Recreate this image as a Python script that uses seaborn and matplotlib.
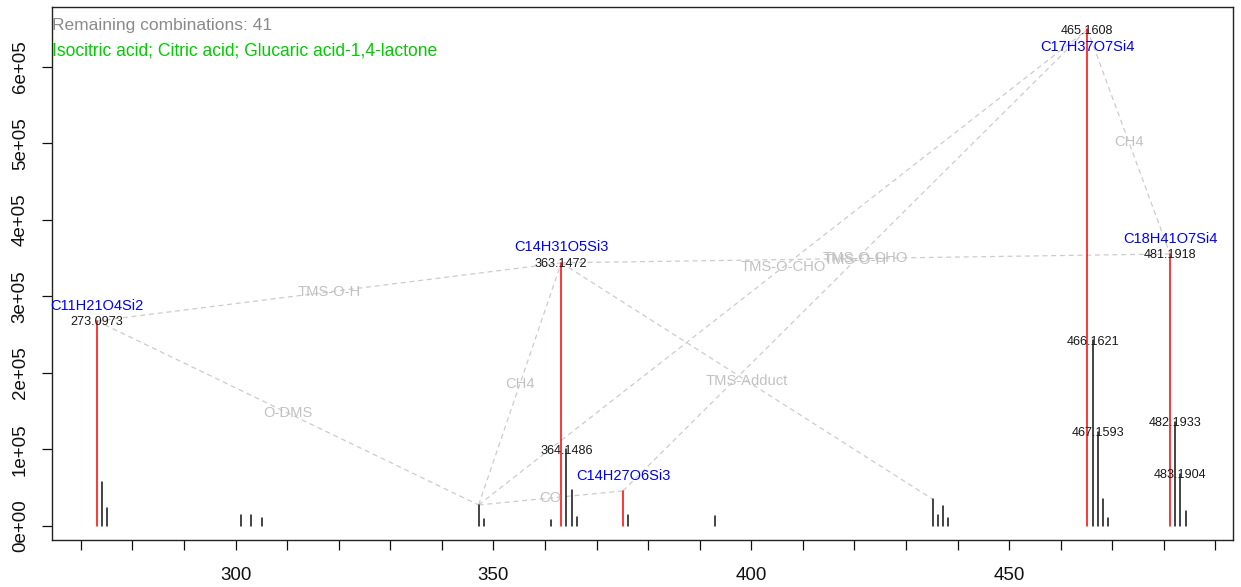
import matplotlib
matplotlib.use("Agg")
import matplotlib.pyplot as plt
import pandas as pd
import seaborn as sns

# Centroided spectrum (m/z, intensity)
peak_mz = [273.0973, 274.1000, 275.0950, 300.9800, 302.9700, 305.0700,
           347.1159, 348.0700, 361.1300, 363.1472, 364.1486, 365.1440,
           366.1450, 375.1108, 376.1100, 393.0300, 435.1867, 436.1300,
           437.1800, 438.1800, 465.1608, 466.1621, 467.1593, 468.1600,
           469.1600, 481.1918, 482.1933, 483.1904, 484.1900]
peak_intensity = [268000, 57000, 23000, 14400, 14400, 10000,
                  27500, 9200, 7800, 344000, 100000, 47000,
                  11800, 45800, 14400, 13000, 34900, 14400,
                  26100, 10000, 649000, 243000, 123000, 34900,
                  10000, 355600, 136300, 68000, 20000]

# Peaks with an assigned sum formula
assigned_mz = [273.0973, 363.1472, 375.1108, 465.1608, 481.1918]
assigned_formula = ["C11H21O4Si2", "C14H31O5Si3", "C14H27O6Si3",
                    "C17H37O7Si4", "C18H41O7Si4"]

# Neutral-loss relations between peaks
loss_from = [273.0973, 273.0973, 347.1159, 347.1159, 347.1159,
             363.1472, 375.1108, 363.1472, 465.1608]
loss_to = [363.1472, 347.1159, 363.1472, 375.1108, 465.1608,
           481.1918, 465.1608, 435.1867, 481.1918]
loss_label = ["TMS-O-H", "O-DMS", "CH4", "CO", "TMS-O-CHO",
              "TMS-O-CHO", "TMS-O-H", "TMS-Adduct", "CH4"]

status_text = "Remaining combinations: 41"
candidates_text = "Isocitric acid; Citric acid; Glucaric acid-1,4-lactone"

x_ticks = list(range(270, 491, 10))
x_tick_labels = ["300" if t == 300 else "350" if t == 350 else
                 "400" if t == 400 else "450" if t == 450 else "" for t in x_ticks]
y_ticks = [0, 100000, 200000, 300000, 400000, 500000, 600000]
y_tick_labels = ["0e+00", "1e+05", "2e+05", "3e+05", "4e+05", "5e+05", "6e+05"]

sns.set_theme(style="ticks")
plt.rcParams["font.family"] = ["Liberation Sans", "DejaVu Sans"]

fig = plt.figure(figsize=(12.41, 5.87), dpi=100)
ax = fig.add_axes([52 / 1241, 47 / 587, (1233 - 52) / 1241, (540 - 7) / 587])

height = dict(zip(peak_mz, peak_intensity))
top = max(peak_intensity)

# dashed connections between related peaks
edge_rows = []
for k, (a, b) in enumerate(zip(loss_from, loss_to)):
    edge_rows.append({"edge": k, "mz": a, "intensity": height[a]})
    edge_rows.append({"edge": k, "mz": b, "intensity": height[b]})
edges = pd.DataFrame(edge_rows)
sns.lineplot(data=edges, x="mz", y="intensity", units="edge", estimator=None,
             sort=False, color="#CCCCCC", linewidth=0.9,
             linestyle=(0, (4, 3)), legend=False, ax=ax)

# stick spectrum
stick_rows = []
for k, (m, h) in enumerate(zip(peak_mz, peak_intensity)):
    kind = "assigned" if m in assigned_mz else "other"
    stick_rows.append({"peak": k, "mz": m, "intensity": 0.0, "kind": kind})
    stick_rows.append({"peak": k, "mz": m, "intensity": h, "kind": kind})
sticks = pd.DataFrame(stick_rows)
sns.lineplot(data=sticks, x="mz", y="intensity", units="peak", estimator=None,
             sort=False, hue="kind", palette={"assigned": "#FF0000", "other": "#111111"},
             linewidth=1.1, legend=False, ax=ax)

# loss names at the middle of each connection
for a, b, name in zip(loss_from, loss_to, loss_label):
    ax.text((a + b) / 2, (height[a] + height[b]) / 2, name, ha="center",
            va="center", fontsize=10.6, color="#C2C2C2", zorder=4)

# m/z labels on the major peaks
for m, h in zip(peak_mz, peak_intensity):
    if h >= 0.1 * top:
        ax.text(m, h, f"{m:.4f}", ha="center", va="center_baseline",
                fontsize=9.1, color="#1A1A1A", zorder=5)

# sum formulas of assigned peaks
for m, f in zip(assigned_mz, assigned_formula):
    h = height[m]
    dy = -11.5 if h > 0.9 * top else 12.2
    ax.annotate(f, xy=(m, h), xytext=(0, dy), textcoords="offset points",
                ha="center", va="center_baseline", fontsize=10.5,
                color="#0000FF", zorder=5)

ax.annotate(status_text, xy=(0, 1), xycoords="axes fraction", xytext=(0, -12.2),
            textcoords="offset points", ha="left", va="center_baseline",
            fontsize=12.5, color="#8A8A8A")
ax.annotate(candidates_text, xy=(0, 1), xycoords="axes fraction", xytext=(0, -30.2),
            textcoords="offset points", ha="left", va="center_baseline",
            fontsize=12.65, color="#00CD00")

ax.set_xlim(264.4, 493.4)
ax.set_ylim(-18300, 678400)
ax.set_xticks(x_ticks)
ax.set_xticklabels(x_tick_labels)
ax.set_yticks(y_ticks)
ax.set_yticklabels(y_tick_labels, rotation=90, va="center")
ax.set_xlabel("")
ax.set_ylabel("")
ax.tick_params(axis="both", direction="out", length=7.2, width=0.9, color="#111111",
               labelsize=13.5, labelcolor="#111111")
ax.tick_params(axis="x", pad=12)
ax.tick_params(axis="y", pad=9.5)
for side in ["left", "right", "top", "bottom"]:
    ax.spines[side].set_visible(True)
    ax.spines[side].set_color("#222222")
    ax.spines[side].set_linewidth(1.0)
ax.set_facecolor("white")
fig.patch.set_facecolor("white")

fig.savefig("out.png", dpi=100, facecolor="white")
